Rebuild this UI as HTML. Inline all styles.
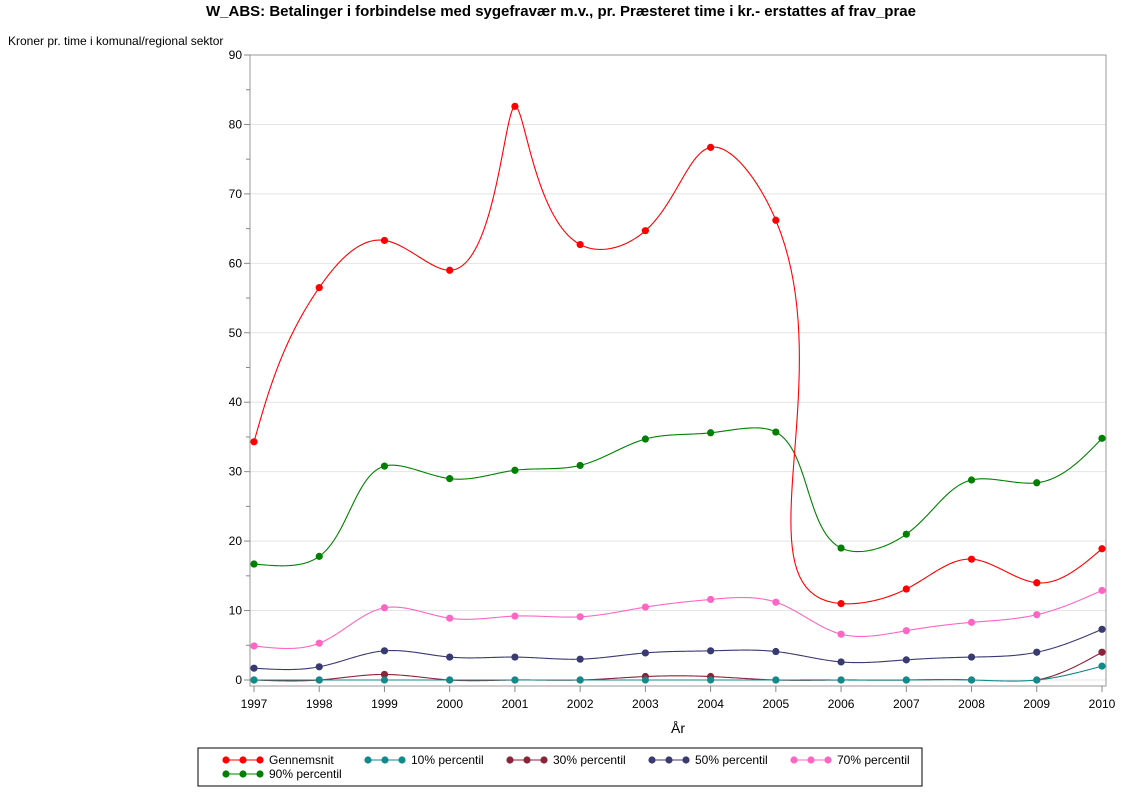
<!DOCTYPE html>
<html><head><meta charset="utf-8"><style>
body{margin:0;background:#fff;font-family:"Liberation Sans",sans-serif}
</style></head><body>
<svg id="c" width="1122" height="793" xmlns="http://www.w3.org/2000/svg" font-family="Liberation Sans, sans-serif">
<text x="561" y="16" text-anchor="middle" font-size="15" font-weight="bold">W_ABS: Betalinger i forbindelse med sygefravær m.v., pr. Præsteret time i kr.- erstattes af frav_prae</text>
<text x="8" y="45" font-size="12">Kroner pr. time i komunal/regional sektor</text>
<text x="678" y="733" text-anchor="middle" font-size="14">År</text>
<g id="grid"></g><g id="axes"></g><g id="series"></g>
<rect x="198" y="748" width="724" height="38" fill="none" stroke="#000"/>
<g id="legend"></g>
</svg>
<script>
const years=[1997,1998,1999,2000,2001,2002,2003,2004,2005,2006,2007,2008,2009,2010];
const yTicks=[0,10,20,30,40,50,60,70,80,90];
const gennemsnit=[34.3,56.5,63.3,59.0,82.6,62.7,64.7,76.7,66.2,11.0,13.1,17.4,14.0,18.9];
const p10=[0,0,0,0,0,0,0,0,0,0,0,0,0,2.0];
const p30=[0,0,0.8,0,0,0,0.5,0.5,0,0,0,0,0,4.0];
const p50=[1.7,1.9,4.2,3.3,3.3,3.0,3.9,4.2,4.1,2.6,2.9,3.3,4.0,7.3];
const p70=[4.9,5.3,10.4,8.9,9.2,9.1,10.5,11.6,11.2,6.6,7.1,8.3,9.4,12.9];
const p90=[16.7,17.8,30.8,29.0,30.2,30.9,34.7,35.6,35.7,19.0,21.0,28.8,28.4,34.8];
const NS='http://www.w3.org/2000/svg';
const X=y=>254+(y-1997)*(1102-254)/13;
const Y=v=>680-v*(680-55)/90;
function mk(t,a,p){const e=document.createElementNS(NS,t);for(const k in a)e.setAttribute(k,a[k]);p.appendChild(e);return e;}
const grid=document.getElementById('grid'),axes=document.getElementById('axes'),ser=document.getElementById('series'),leg=document.getElementById('legend');
mk('rect',{x:250,y:55,width:856,height:631,fill:'none',stroke:'#999'},axes);
yTicks.forEach(t=>{
 const l=mk('line',{x1:250,x2:1106,y1:Y(t),y2:Y(t),stroke:'#e4e4e4'},grid);
 
 
 mk('line',{x1:244,x2:250,y1:Y(t),y2:Y(t),stroke:'#888'},axes);
 if(t<90)mk('line',{x1:246,x2:250,y1:Y(t+5),y2:Y(t+5),stroke:'#888'},axes);
 const tx=mk('text',{x:242,y:Y(t)+4,'text-anchor':'end','font-size':12},axes);tx.textContent=t;
 
 
});
years.forEach(yr=>{
 mk('line',{x1:X(yr),x2:X(yr),y1:686,y2:692,stroke:'#888'},axes);
 const tx=mk('text',{x:X(yr),y:708,'text-anchor':'middle','font-size':12},axes);tx.textContent=yr;
 
 
});
function natural(t,v){
 const n=t.length,a=new Array(n).fill(0),b=new Array(n).fill(0),c=new Array(n).fill(0),d=new Array(n).fill(0),m=new Array(n).fill(0);
 for(let i=1;i<n-1;i++){const h0=t[i]-t[i-1],h1=t[i+1]-t[i];a[i]=h0;b[i]=2*(h0+h1);c[i]=h1;d[i]=6*((v[i+1]-v[i])/h1-(v[i]-v[i-1])/h0);}
 for(let i=2;i<n-1;i++){const w=a[i]/b[i-1];b[i]-=w*c[i-1];d[i]-=w*d[i-1];}
 for(let i=n-2;i>=1;i--)m[i]=(d[i]-c[i]*m[i+1])/b[i];
 return s=>{let i=0;while(i<n-2&&s>t[i+1])i++;const h=t[i+1]-t[i],A=(t[i+1]-s)/h,B=(s-t[i])/h;
  return A*v[i]+B*v[i+1]+((A*A*A-A)*m[i]+(B*B*B-B)*m[i+1])*h*h/6;};
}
function path(vals,gaps){
 const px=vals.map((v,i)=>X(years[i])),py=vals.map(v=>Y(v));
 const t=[0];for(let i=1;i<px.length;i++)t.push(t[i-1]+Math.hypot(px[i]-px[i-1],py[i]-py[i-1])+1e-6);
 const fx=natural(t,px),fy=natural(t,py);let d='';
 for(let i=0;i<px.length-1;i++){
  if(gaps&&gaps.includes(i))continue;
  d+='M'+px[i]+','+py[i];
  for(let k=1;k<=40;k++){const s=t[i]+(t[i+1]-t[i])*k/40;d+='L'+fx(s).toFixed(2)+','+fy(s).toFixed(2);}
 }
 return d;
}
const series=[['Gennemsnit',gennemsnit,'#ff0000',null],['10% percentil',p10,'#108a8a',null],['30% percentil',p30,'#8b2339',[11]],['50% percentil',p50,'#393a70',null],['70% percentil',p70,'#ff66c4',null],['90% percentil',p90,'#008000',null]];
[5,4,3,2,1,0].forEach(k=>{
 const [nm,vals,col,gaps]=series[k];
 const g=mk('g',{},ser);
 
 
 mk('path',{d:path(vals,gaps),fill:'none',stroke:col,'stroke-width':1.1},g);
 vals.forEach((v,i)=>{
  const c=mk('circle',{cx:X(years[i]),cy:Y(v),r:3.6,fill:col},g);
  
  
 });
});
const lx=[226,368,510,652,794],
 pos=series.map((s,i)=>i<5?[lx[i],760]:[226,774]);
series.forEach((s,i)=>{
 const [x,y]=pos[i];
 const g=mk('g',{},leg);
 
 
 mk('line',{x1:x,x2:x+34,y1:y,y2:y,stroke:s[2]},g);
 [0,17,34].forEach(o=>mk('circle',{cx:x+o,cy:y,r:3.6,fill:s[2]},g));
 const t=mk('text',{x:x+43,y:y+4,'font-size':12},g);t.textContent=s[0];
});
</script>
</body></html>
